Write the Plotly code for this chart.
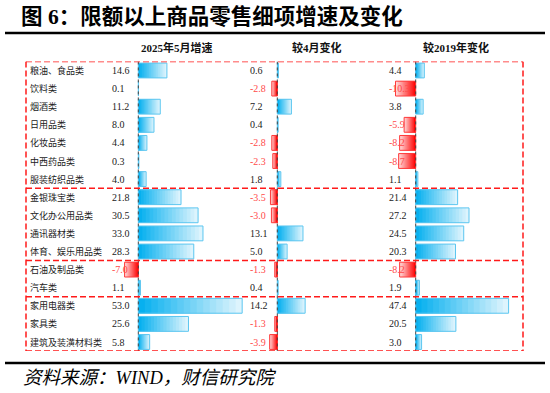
import plotly.graph_objects as go

# ---------------- data ----------------
categories = ["粮油、食品类", "饮料类", "烟酒类", "日用品类", "化妆品类", "中西药品类",
              "服装纺织品类", "金银珠宝类", "文化办公用品类", "通讯器材类", "体育、娱乐用品类",
              "石油及制品类", "汽车类", "家用电器类", "家具类", "建筑及装潢材料类"]
growth_2025_05 = [14.6, 0.1, 11.2, 8.0, 4.4, 0.3, 4.0, 21.8, 30.5, 33.0, 28.3, -7.0, 1.1, 53.0, 25.6, 5.8]
chg_vs_apr = [0.6, -2.8, 7.2, 0.4, -2.8, -2.3, 1.8, -3.5, -3.0, 13.1, 5.0, -1.3, 0.4, 14.2, -1.3, -3.9]
chg_vs_2019 = [4.4, -10.3, 3.8, -5.9, -8.2, -8.7, 1.1, 21.4, 27.2, 24.5, 20.3, -8.2, 1.9, 47.4, 20.5, 3.0]
column_titles = ["2025年5月增速", "较4月变化", "较2019年变化"]
group_sizes = [7, 4, 2, 3]
title_text = "图 6：限额以上商品零售细项增速及变化"
source_text = "资料来源：WIND，财信研究院"

# ---------------- layout constants ----------------
W, H = 550, 393
n = len(categories)
ROW0, ROWH = 70.5, 18.1
PX_PER_UNIT = 1.96
zero_px = [138.3, 277.3, 415.7]
dom_px = [(118, 252), (262, 390), (392, 522)]
text_px = [110, 248, 386.7]
head_px = [177, 317, 456]

BLUE_D, BLUE_L, BLUE_LINE = (0, 174, 239), (228, 246, 253), "#5cc6f0"
RED_D, RED_L, RED_LINE = (255, 0, 0), (255, 222, 222), "#ff3a3a"
NSEG = 16

CJK = "Noto Sans CJK SC"
SERIF = "Liberation Serif, Noto Sans CJK SC"
BOX_LINE = dict(color="#ff1a1a", width=1.5, dash="6px,3px")


def fx(p):
    return p / W


def fy(p):
    return 1 - p / H


def lerp(c1, c2, t):
    return "rgb(%d,%d,%d)" % tuple(round(a + (b - a) * t) for a, b in zip(c1, c2))


series = [growth_2025_05, chg_vs_apr, chg_vs_2019]
rows = list(range(n))
fig = go.Figure()
layout_axes = {}
shapes = []
annotations = []

for ci, vals in enumerate(series):
    xa = "x" if ci == 0 else f"x{ci + 1}"
    # gradient: overlapping bars, longest (lightest) first
    for k in range(NSEG):
        frac = (NSEG - k) / NSEG
        t = (NSEG - k - 0.5) / NSEG
        cols = [lerp(BLUE_D, BLUE_L, t) if v >= 0 else lerp(RED_D, RED_L, t) for v in vals]
        fig.add_trace(go.Bar(y=rows, x=[v * frac for v in vals], orientation="h",
                             marker=dict(color=cols, line=dict(width=0)), width=0.82,
                             xaxis=xa, yaxis="y", hoverinfo="skip", showlegend=False))
    fig.add_trace(go.Bar(y=rows, x=vals, orientation="h",
                         marker=dict(color="rgba(0,0,0,0)",
                                     line=dict(width=1, color=[BLUE_LINE if v >= 0 else RED_LINE for v in vals])),
                         width=0.82, xaxis=xa, yaxis="y", hoverinfo="skip", showlegend=False))
    d0, d1 = dom_px[ci]
    rng = [(d0 - zero_px[ci]) / PX_PER_UNIT, (d1 - zero_px[ci]) / PX_PER_UNIT]
    key = "xaxis" if ci == 0 else f"xaxis{ci + 1}"
    layout_axes[key] = dict(domain=[fx(d0), fx(d1)], range=rng, anchor="y", visible=False,
                            showgrid=False, zeroline=False, fixedrange=True)
    # zero line
    shapes.append(dict(type="line", xref=xa, yref="y", x0=0, x1=0, y0=-0.5, y1=n - 0.5,
                       line=dict(color="#444444", width=1, dash="dot"), layer="above"))
    # column header
    annotations.append(dict(text="<b>%s</b>" % column_titles[ci], xref="paper", yref="paper",
                            x=fx(head_px[ci]), y=fy(47), xanchor="center", yanchor="middle",
                            showarrow=False, font=dict(family=SERIF, size=11, color="#111")))
    # values
    for i, v in enumerate(vals):
        annotations.append(dict(text="%.1f" % v, xref="paper", yref="y", x=fx(text_px[ci]), y=i,
                                xanchor="left", yanchor="middle", showarrow=False,
                                font=dict(family=SERIF, size=10, color="#222" if v >= 0 else "#ff4a4a")))

# category labels
for i, c in enumerate(categories):
    annotations.append(dict(text=c, xref="paper", yref="y", x=fx(28), y=i, xanchor="left",
                            yanchor="middle", showarrow=False, font=dict(family=CJK, size=9, color="#222")))

# group boxes: each horizontal boundary once, sides full height
bounds = [0]
for g in group_sizes:
    bounds.append(bounds[-1] + g)
for b in bounds:
    shapes.append(dict(type="line", xref="paper", yref="y", x0=fx(26), x1=fx(523),
                       y0=b - 0.5, y1=b - 0.5, line=BOX_LINE, layer="above"))
for xp in (26, 523):
    shapes.append(dict(type="line", xref="paper", yref="y", x0=fx(xp), x1=fx(xp),
                       y0=-0.5, y1=n - 0.5, line=BOX_LINE, layer="above"))

# black rules
for yp in (33, 363):
    shapes.append(dict(type="line", xref="paper", yref="paper", x0=fx(5), x1=fx(545), y0=fy(yp), y1=fy(yp),
                       line=dict(color="black", width=2.5)))

annotations.append(dict(text="<b>%s</b>" % title_text, xref="paper", yref="paper", x=fx(19), y=fy(17),
                        xanchor="left", yanchor="middle", showarrow=False,
                        font=dict(family=SERIF, size=21.5, color="black")))
annotations.append(dict(text="<i>%s</i>" % source_text, xref="paper", yref="paper", x=fx(21), y=fy(378),
                        xanchor="left", yanchor="middle", showarrow=False,
                        font=dict(family=SERIF, size=18.5, color="black")))

fig.update_layout(
    width=W, height=H, margin=dict(l=0, r=0, t=0, b=0),
    paper_bgcolor="white", plot_bgcolor="white", barmode="overlay",
    yaxis=dict(domain=[fy(ROW0 + ROWH * (n - 0.5)), fy(ROW0 - ROWH * 0.5)], range=[n - 0.5, -0.5],
               visible=False, showgrid=False, zeroline=False, fixedrange=True, anchor="x"),
    shapes=shapes, annotations=annotations, showlegend=False,
    **layout_axes,
)

fig.write_html("out.html", config={"displayModeBar": False},
               post_script="document.body.style.margin='0px';document.body.style.overflow='hidden';")
